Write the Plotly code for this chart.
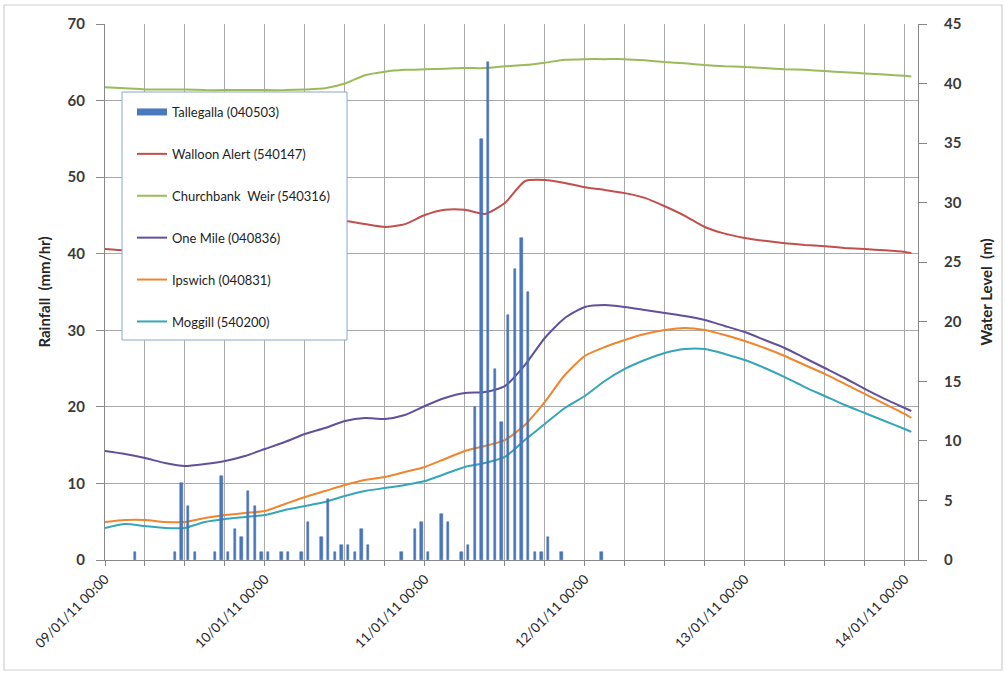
import pandas as pd
import plotly.graph_objects as go

START = pd.Timestamp("2011-01-09 00:00")

# Tallegalla (040503) hourly rainfall, mm/hr, by hour offset from 09/01/11 00:00
rain_hour = [4, 10, 11, 12, 13,
             16, 17, 18, 19, 20, 21, 22, 23, 24,
             26, 27, 29, 30, 32, 33, 34, 35, 36, 37, 38, 39,
             44, 46, 47, 48,
             50, 51, 53, 54,
             55, 56, 57, 58, 59, 60, 61, 62, 63, 64, 65, 66,
             68, 74]
rain_mm = [1, 1, 10, 7, 1,
           1, 11, 1, 4, 3, 9, 7, 1, 1,
           1, 1, 1, 5, 3, 8, 1, 2, 2, 1, 4, 2,
           1, 4, 5, 1,
           6, 5, 1, 2,
           20, 55, 65, 25, 18, 32, 38, 42, 35, 1, 1, 3,
           1, 1]

# water level sample times, hours from 09/01/11 00:00
level_hour = [0, 3, 6, 9, 12, 15, 18, 21, 24, 27, 30, 33, 36, 39, 42, 45, 48, 51, 54, 57,
              60, 63, 66, 69, 72, 75, 78, 81, 84, 87, 90, 93, 96, 99, 102, 105, 108, 111,
              114, 117, 120, 121]

# water levels, m
walloon = [26.1, 26.0, 26.1, 26.25, 26.4, 26.65, 26.9, 27.15, 27.4, 27.75, 28.05, 28.3,
           28.46, 28.2, 27.96, 28.2, 28.96, 29.4, 29.4, 29.05, 29.97, 31.8, 31.9, 31.65,
           31.3, 31.06, 30.8, 30.4, 29.7, 28.9, 27.96, 27.4, 27.04, 26.8, 26.6, 26.45,
           26.35, 26.2, 26.1, 26.0, 25.86, 25.77]
churchbank = [39.7, 39.6, 39.5, 39.5, 39.5, 39.45, 39.45, 39.45, 39.45, 39.45, 39.5, 39.6,
              40.0, 40.7, 41.0, 41.15, 41.2, 41.25, 41.3, 41.3, 41.45, 41.55, 41.75, 42.0,
              42.05, 42.05, 42.05, 41.95, 41.8, 41.7, 41.55, 41.45, 41.4, 41.3, 41.2, 41.15,
              41.05, 40.95, 40.85, 40.75, 40.65, 40.6]
one_mile = [9.15, 8.9, 8.56, 8.14, 7.89, 8.06, 8.31, 8.73, 9.32, 9.91, 10.58, 11.08,
            11.67, 11.92, 11.84, 12.17, 12.93, 13.6, 14.02, 14.1, 14.6, 16.37, 18.64, 20.32,
            21.24, 21.41, 21.24, 20.99, 20.74, 20.49, 20.15, 19.65, 19.14, 18.47, 17.8, 16.96,
            16.12, 15.28, 14.36, 13.52, 12.76, 12.51]
ipswich = [3.19, 3.36, 3.36, 3.19, 3.19, 3.53, 3.78, 3.95, 4.11, 4.7, 5.29, 5.79,
           6.3, 6.72, 6.97, 7.39, 7.81, 8.48, 9.15, 9.57, 10.07, 11.33, 13.27, 15.53,
           17.13, 17.88, 18.47, 18.97, 19.31, 19.48, 19.31, 18.89, 18.39, 17.8, 17.13, 16.37,
           15.62, 14.78, 13.94, 13.1, 12.26, 11.92]
moggill = [2.69, 3.02, 2.85, 2.69, 2.69, 3.19, 3.44, 3.61, 3.78, 4.2, 4.53, 4.87,
           5.37, 5.79, 6.04, 6.3, 6.63, 7.22, 7.81, 8.14, 8.65, 10.07, 11.42, 12.76,
           13.77, 15.03, 16.04, 16.79, 17.38, 17.71, 17.71, 17.3, 16.79, 16.12, 15.36, 14.52,
           13.77, 13.01, 12.34, 11.67, 11.0, 10.75]

series = [
    ("Walloon Alert (540147)", walloon, "#c0504d"),
    ("Churchbank  Weir (540316)", churchbank, "#9bbb59"),
    ("One Mile (040836)", one_mile, "#62509a"),
    ("Ipswich (040831)", ipswich, "#f0852d"),
    ("Moggill (540200)", moggill, "#35a6b8"),
]

HOUR = pd.Timedelta(hours=1)
rain_t = [START + h * HOUR for h in rain_hour]
level_t = [START + h * HOUR for h in level_hour]

BAR = "#4a78bf"
GRID = "#a9a9a9"
AXIS = "#888888"
FONT = "Lato"

fig = go.Figure()

# legend entry for the rainfall bars (wide swatch)
fig.add_trace(go.Scatter(x=[None], y=[None], mode="lines", name="Tallegalla (040503)",
                         line=dict(color=BAR, width=7), legendgroup="g0", yaxis="y"))

for i, (name, vals, col) in enumerate(series):
    fig.add_trace(go.Scatter(x=level_t, y=vals, mode="lines", name=name,
                             line=dict(color=col, width=2, shape="spline", smoothing=0.6),
                             legendgroup=f"g{i + 1}", yaxis="y", hoverinfo="x+y+name"))

fig.add_trace(go.Bar(x=rain_t, y=rain_mm, name="Tallegalla (040503)", yaxis="y2",
                     xperiod=3600000, xperiodalignment="middle", width=1250000,
                     marker=dict(color=BAR, line=dict(color="#3c64a8", width=0.5)),
                     showlegend=False))

PX_L, PX_R, PX_T, PX_B = 105, 918, 24, 560
W, H = 1006, 675


def px(x):
    return (x - PX_L) / (PX_R - PX_L)


def py(y):
    return (PX_B - y) / (PX_B - PX_T)


tick_font = dict(size=15, color="#3a3a3a", family=FONT, weight="bold")

fig.update_layout(
    width=W, height=H,
    margin=dict(l=PX_L, r=W - PX_R, t=PX_T, b=H - PX_B),
    paper_bgcolor="white", plot_bgcolor="white",
    font=dict(family=FONT, color="#262626"),
    bargap=0,
    showlegend=True,
    legend=dict(x=px(132), y=py(97), xanchor="left", yanchor="top",
                bgcolor="rgba(0,0,0,0)", borderwidth=0,
                font=dict(size=13, color="#1e1e1e", family=FONT),
                tracegroupgap=22, itemwidth=30),
    xaxis=dict(type="date", range=[START, START + 122 * HOUR],
               tick0=START, dtick=86400000, tickformat="%d/%m/%y %H:%M",
               tickangle=-45, tickfont=dict(size=13.5, color="#262626"),
               showgrid=True, gridcolor=GRID, gridwidth=1,
               ticks="outside", ticklen=5, tickcolor=AXIS,
               showline=True, linecolor=AXIS, linewidth=1,
               minor=dict(dtick=21600000, tick0=START, showgrid=True, gridcolor=GRID,
                          ticks="outside", ticklen=5, tickcolor=AXIS)),
    yaxis=dict(title=dict(text="<b>Water Level  (m)</b>", font=dict(size=15, color="#262626"),
                          standoff=20),
               side="right", range=[0, 45], dtick=5, showgrid=False, zeroline=False,
               tickfont=tick_font, ticklabelstandoff=14,
               ticks="outside", ticklen=8, tickcolor=AXIS,
               showline=True, linecolor=AXIS, linewidth=1),
    yaxis2=dict(title=dict(text="<b>Rainfall  (mm/hr)</b>", font=dict(size=15, color="#262626"),
                           standoff=13),
                side="left", overlaying="y", range=[0, 70], dtick=10,
                showgrid=True, gridcolor=GRID, gridwidth=1, zeroline=False,
                tickfont=tick_font, ticklabelstandoff=8,
                ticks="outside", ticklen=8, tickcolor=AXIS,
                showline=True, linecolor=AXIS, linewidth=1),
    shapes=[
        # legend panel
        dict(type="rect", xref="paper", yref="paper",
             x0=px(122), x1=px(347), y0=py(340), y1=py(92),
             fillcolor="white", line=dict(color="#8aa6d2", width=1), layer="above"),
        # chart frame
        dict(type="rect", xref="paper", yref="paper",
             x0=px(4), x1=px(1002), y0=py(670), y1=py(5),
             line=dict(color="#cfcfcf", width=1.2), layer="below"),
    ],
)

fig.write_html("out.html")
